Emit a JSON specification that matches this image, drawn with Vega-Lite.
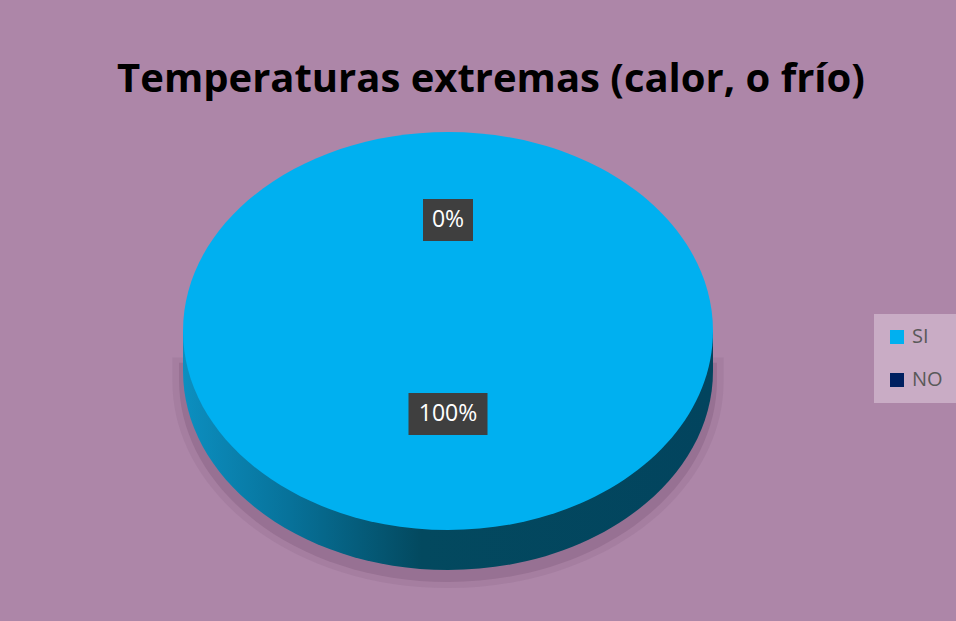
{
  "$schema": "https://vega.github.io/schema/vega-lite/v6.json",
  "autosize": {"type": "none"},
  "width": 600,
  "height": 398,
  "padding": {"left": 148, "top": 132, "right": 208, "bottom": 91},
  "background": "#AD86A8",
  "config": {"view": {"stroke": null}},
  "title": {
    "text": "Temperaturas extremas (calor, o frío)",
    "font": "Open Sans",
    "fontSize": 40,
    "fontWeight": "bold",
    "color": "#000000",
    "anchor": "middle",
    "frame": "group",
    "baseline": "alphabetic",
    "offset": 40,
    "dx": 43,
    "dy": 40
  },
  "data": {
    "values": [
      {"category": "SI", "value": 100, "label": "100%"},
      {"category": "NO", "value": 0, "label": "0%"}
    ]
  },
  "layer": [
    {
      "mark": {"type": "point", "filled": true, "opacity": 0.12, "strokeWidth": 0, "color": "#6E4A6B",
        "shape": "M -1.04 0.1 L -1.04 0.19 A 1.04 0.78 0 0 0 1.04 0.19 L 1.04 0.1 Z"},
      "encoding": {
        "size": {"field": "value", "type": "quantitative", "scale": {"domain": [0, 100], "range": [0, 280900]}, "legend": null}
      }
    },
    {
      "mark": {"type": "point", "filled": true, "opacity": 0.25, "strokeWidth": 0, "color": "#6E4A6B",
        "shape": "M -1.015 0.12 L -1.015 0.185 A 1.015 0.762 0 0 0 1.015 0.185 L 1.015 0.12 Z"},
      "encoding": {
        "size": {"field": "value", "type": "quantitative", "scale": {"domain": [0, 100], "range": [0, 280900]}, "legend": null}
      }
    },
    {
      "mark": {"type": "point", "filled": true, "opacity": 1, "strokeWidth": 0,
        "fill": {"gradient": "linear", "x1": 0, "y1": 0, "x2": 1, "y2": 0,
          "stops": [
            {"offset": 0, "color": "#0C8FC0"},
            {"offset": 0.2, "color": "#07729A"},
            {"offset": 0.45, "color": "#03495F"},
            {"offset": 1, "color": "#02445E"}
          ]},
        "shape": "M -1 0 L -1 0.151 A 1 0.751 0 0 0 1 0.151 L 1 0 Z"},
      "encoding": {
        "size": {"field": "value", "type": "quantitative", "scale": {"domain": [0, 100], "range": [0, 280900]}, "legend": null}
      }
    },
    {
      "mark": {"type": "point", "filled": true, "opacity": 1, "strokeWidth": 0,
        "shape": "M -1 0 A 1 0.751 0 1 1 1 0 A 1 0.751 0 1 1 -1 0 Z"},
      "encoding": {
        "size": {"field": "value", "type": "quantitative", "scale": {"domain": [0, 100], "range": [0, 280900]}, "legend": null},
        "color": {
          "field": "category", "type": "nominal",
          "scale": {"domain": ["SI", "NO"], "range": ["#00B0F0", "#002060"]},
          "legend": {
            "title": null,
            "orient": "none",
            "legendX": 726,
            "legendY": 182,
            "fillColor": "#C9ACC5",
            "padding": 13,
            "rowPadding": 23,
            "symbolType": "square",
            "symbolSize": 196,
            "symbolStrokeWidth": 0,
            "symbolOpacity": 1,
            "labelFont": "Open Sans",
            "labelFontSize": 20,
            "labelColor": "#595959",
            "labelOffset": 5
          }
        }
      }
    },
    {
      "transform": [{"filter": "datum.category == 'NO'"}],
      "mark": {"type": "point", "filled": true, "opacity": 1, "strokeWidth": 0, "color": "#3F3F3F",
        "size": 2500, "yOffset": -111,
        "shape": "M -1 -0.84 H 1 V 0.84 H -1 Z"},
      "encoding": {}
    },
    {
      "transform": [{"filter": "datum.category == 'SI'"}],
      "mark": {"type": "point", "filled": true, "opacity": 1, "strokeWidth": 0, "color": "#3F3F3F",
        "size": 6241, "yOffset": 83,
        "shape": "M -1 -0.532 H 1 V 0.532 H -1 Z"},
      "encoding": {}
    },
    {
      "transform": [{"filter": "datum.category == 'NO'"}],
      "mark": {"type": "text", "font": "Open Sans", "fontSize": 23, "color": "#FFFFFF", "align": "center", "baseline": "middle", "yOffset": -111},
      "encoding": {"text": {"field": "label"}}
    },
    {
      "transform": [{"filter": "datum.category == 'SI'"}],
      "mark": {"type": "text", "font": "Open Sans", "fontSize": 23, "color": "#FFFFFF", "align": "center", "baseline": "middle", "yOffset": 83},
      "encoding": {"text": {"field": "label"}}
    }
  ]
}
